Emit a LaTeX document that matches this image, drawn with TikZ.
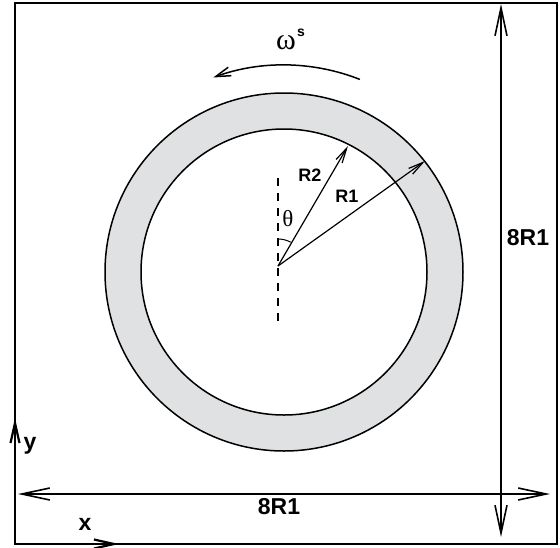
\documentclass[tikz,border=0pt]{standalone}
\usepackage{fontspec}
\setmainfont{Liberation Sans}
\newfontfamily\greekfont{Liberation Serif}
\usetikzlibrary{arrows.meta}
\definecolor{ringgray}{RGB}{224,225,227}
\begin{document}
\begin{tikzpicture}[x=1pt,y=-1pt, font=\bfseries,
  dimline/.style={line width=1.6pt},
  rvec/.style={line width=1.2pt,-{Straight Barb[length=15pt,width=7pt]}},
  biglabel/.style={font=\fontsize{23}{23}\selectfont\bfseries},
  rlabel/.style={font=\fontsize{18}{18}\selectfont\bfseries}]
\useasboundingbox (0,0) rectangle (560,547);
% domain and its axes
\draw[line width=2.2pt] (15,3) rectangle (557,544);
\coordinate (corner) at (15,544);
\coordinate (ytip) at (15,418);
\coordinate (xtip) at (119,544);
\draw[line width=2.2pt,-{Straight Barb[length=20pt,width=9pt]}] (corner) -- (ytip);
\draw[line width=2.2pt,-{Straight Barb[length=20pt,width=9pt]}] (corner) -- (xtip);
\node[biglabel] (ylab) at (30,446) {y};
\node[biglabel] (xlab) at (85,524) {x};

% overall dimensions
\coordinate (hleft) at (18,494);
\coordinate (hright) at (550,494);
\coordinate (vtop) at (501,4);
\coordinate (vbot) at (501,537);
\draw[dimline,{Straight Barb[length=28pt,width=12pt]}-{Straight Barb[length=28pt,width=12pt]}] (hleft) -- (hright);
\draw[dimline,{Straight Barb[length=28pt,width=12pt]}-{Straight Barb[length=28pt,width=12pt]}] (vtop) -- (vbot);
\node[biglabel] (wlab) at (279,507) {8R1};
\node[biglabel] (hlab) at (528,238) {8R1};

% ring
\coordinate (C) at (284,272);
\fill[ringgray,even odd rule] (C) circle (179) (C) circle (143);
\draw[line width=1.5pt] (C) circle (179);
\draw[line width=1.5pt] (C) circle (143);

% rotation
\draw[line width=1.5pt,-{Straight Barb[length=15pt,width=9pt]}]
  ([shift={(-68.5:207)}]C) arc[start angle=-68.5,end angle=-110,radius=207];
\node[font=\fontsize{30}{30}\selectfont\greekfont] (omega) at (286,43) {ω};
\node[font=\fontsize{14}{14}\selectfont\bfseries] (sup) at (301,33) {s};

% radii and angle
\coordinate (O) at (278,266);
\coordinate (dtop) at (278,178);
\coordinate (dbot) at (278,325);
\coordinate (R2tip) at (348,146);
\coordinate (R1tip) at (425,161);
\draw[line width=1.5pt,dash pattern=on 8pt off 7pt] (dtop) -- (dbot);
\draw[rvec] (O) -- (R2tip);
\draw[rvec] (O) -- (R1tip);
\node[rlabel] (r2lab) at (310,175) {R2};
\node[rlabel] (r1lab) at (347,196) {R1};
\draw[line width=1pt] ([shift={(-90:27)}]O) arc[start angle=-90,end angle=-62,radius=27];
\node[font=\fontsize{23}{23}\selectfont\greekfont] (theta) at (288,219) {θ};
\end{tikzpicture}
\end{document}
